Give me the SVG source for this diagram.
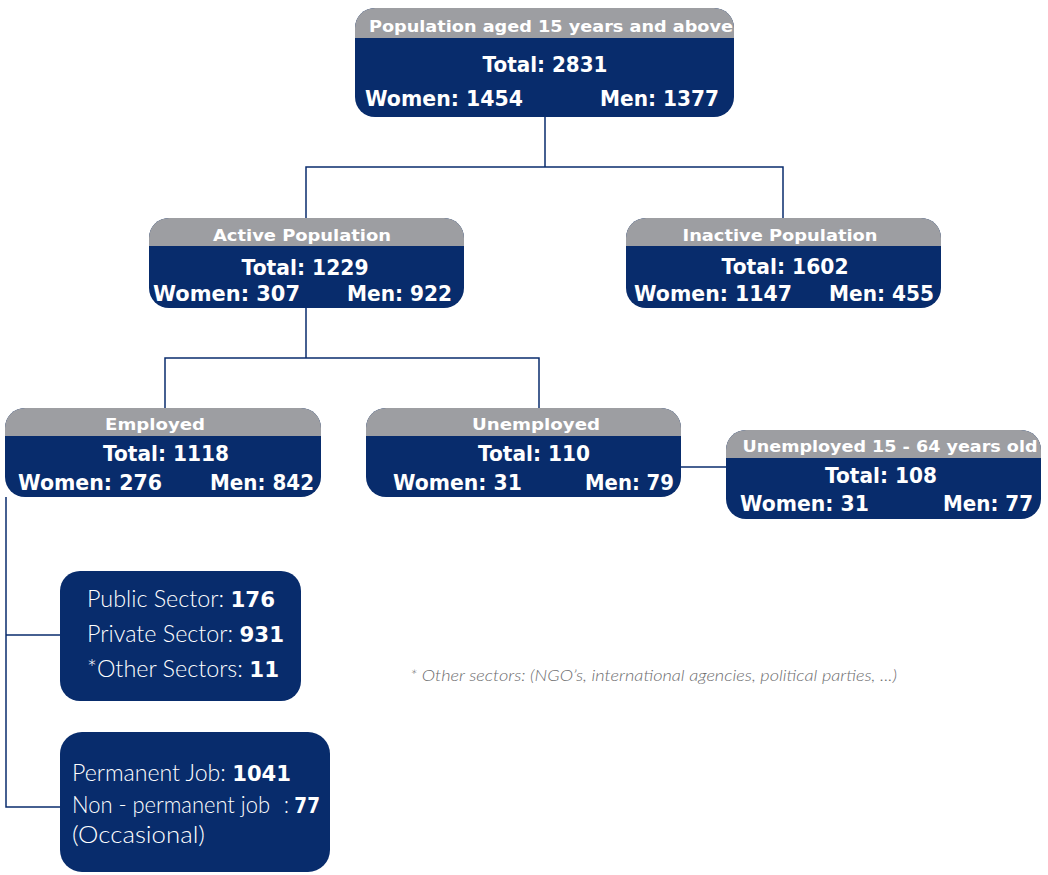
<svg xmlns="http://www.w3.org/2000/svg" width="1048" height="875" viewBox="0 0 1048 875">
<style>
.box{fill:#082c6c}
.hdr{fill:#9d9ea2}
.h{font-family:"DejaVu Sans",Verdana,sans-serif;font-weight:bold;font-size:16px;fill:#fff;text-anchor:middle}
.t{font-family:"DejaVu Sans",Verdana,sans-serif;font-weight:bold;font-size:21px;fill:#fff}
.c{text-anchor:middle}
.l{font-family:"Lato","Liberation Sans",sans-serif;font-weight:300;font-size:23px;fill:#fff}
.b{font-family:"DejaVu Sans",Verdana,sans-serif;font-weight:bold;font-size:21px}
.fn{font-family:"Lato","Liberation Sans",sans-serif;font-weight:300;font-style:italic;font-size:15px;fill:#6e6e70}
.conn{fill:none;stroke:#0a2d6e;stroke-width:1.5}
</style>
<g id="connectors" class="conn">
<path d="M545,117 V167 M306,218 V167 H783 V218"/>
<path d="M306,308 V358 M165,408 V358 H539 V408"/>
<path d="M681,467 H726"/>
<path d="M6,497 V807 H60 M6,635 H60"/>
</g>
<g id="n-pop">
<rect class="box" x="355" y="8" width="379" height="109" rx="20"/>
<path class="hdr" d="M355,38 V28 A20,20 0 0 1 375,8 H714 A20,20 0 0 1 734,28 V38 Z"/>
<text class="h" x="551" y="32" textLength="364" lengthAdjust="spacingAndGlyphs">Population aged 15 years and above</text>
<text class="t c" x="545" y="72" textLength="125" lengthAdjust="spacingAndGlyphs">Total: 2831</text>
<text class="t" x="365" y="106" textLength="158" lengthAdjust="spacingAndGlyphs">Women: 1454</text>
<text class="t" x="600" y="106" textLength="119" lengthAdjust="spacingAndGlyphs">Men: 1377</text>
</g>
<g id="n-active">
<rect class="box" x="149" y="218" width="315" height="90" rx="20"/>
<path class="hdr" d="M149,246 V238 A20,20 0 0 1 169,218 H444 A20,20 0 0 1 464,238 V246 Z"/>
<text class="h" x="302" y="241" textLength="178" lengthAdjust="spacingAndGlyphs">Active Population</text>
<text class="t c" x="305" y="275" textLength="127" lengthAdjust="spacingAndGlyphs">Total: 1229</text>
<text class="t" x="153" y="301" textLength="147" lengthAdjust="spacingAndGlyphs">Women: 307</text>
<text class="t" x="347" y="301" textLength="105" lengthAdjust="spacingAndGlyphs">Men: 922</text>
</g>
<g id="n-inactive">
<rect class="box" x="626" y="218" width="315" height="90" rx="20"/>
<path class="hdr" d="M626,246 V238 A20,20 0 0 1 646,218 H921 A20,20 0 0 1 941,238 V246 Z"/>
<text class="h" x="780" y="241" textLength="195" lengthAdjust="spacingAndGlyphs">Inactive Population</text>
<text class="t c" x="785" y="274" textLength="127" lengthAdjust="spacingAndGlyphs">Total: 1602</text>
<text class="t" x="634" y="301" textLength="158" lengthAdjust="spacingAndGlyphs">Women: 1147</text>
<text class="t" x="829" y="301" textLength="105" lengthAdjust="spacingAndGlyphs">Men: 455</text>
</g>
<g id="n-employed">
<rect class="box" x="5" y="408" width="316" height="89" rx="20"/>
<path class="hdr" d="M5,436 V428 A20,20 0 0 1 25,408 H301 A20,20 0 0 1 321,428 V436 Z"/>
<text class="h" x="155" y="430" textLength="100" lengthAdjust="spacingAndGlyphs">Employed</text>
<text class="t c" x="166" y="461" textLength="126" lengthAdjust="spacingAndGlyphs">Total: 1118</text>
<text class="t" x="18" y="490" textLength="144" lengthAdjust="spacingAndGlyphs">Women: 276</text>
<text class="t" x="210" y="490" textLength="104" lengthAdjust="spacingAndGlyphs">Men: 842</text>
</g>
<g id="n-unemployed">
<rect class="box" x="366" y="408" width="315" height="89" rx="20"/>
<path class="hdr" d="M366,436 V428 A20,20 0 0 1 386,408 H661 A20,20 0 0 1 681,428 V436 Z"/>
<text class="h" x="536" y="430" textLength="128" lengthAdjust="spacingAndGlyphs">Unemployed</text>
<text class="t c" x="534" y="461" textLength="112" lengthAdjust="spacingAndGlyphs">Total: 110</text>
<text class="t" x="393" y="490" textLength="129" lengthAdjust="spacingAndGlyphs">Women: 31</text>
<text class="t" x="585" y="490" textLength="89" lengthAdjust="spacingAndGlyphs">Men: 79</text>
</g>
<g id="n-unemp1564">
<rect class="box" x="726" y="430" width="315" height="89" rx="20"/>
<path class="hdr" d="M726,458 V450 A20,20 0 0 1 746,430 H1021 A20,20 0 0 1 1041,450 V458 Z"/>
<text class="h" x="890" y="452" textLength="295" lengthAdjust="spacingAndGlyphs">Unemployed 15 - 64 years old</text>
<text class="t c" x="881" y="483" textLength="112" lengthAdjust="spacingAndGlyphs">Total: 108</text>
<text class="t" x="740" y="511" textLength="129" lengthAdjust="spacingAndGlyphs">Women: 31</text>
<text class="t" x="943" y="511" textLength="90" lengthAdjust="spacingAndGlyphs">Men: 77</text>
</g>
<g id="n-sectors">
<rect class="box" x="60" y="571" width="241" height="130" rx="20"/>
<text class="l" x="87" y="607" textLength="188" lengthAdjust="spacingAndGlyphs">Public Sector: <tspan class="b">176</tspan></text>
<text class="l" x="87" y="642" textLength="197" lengthAdjust="spacingAndGlyphs">Private Sector: <tspan class="b">931</tspan></text>
<text class="l" x="87" y="677" textLength="192" lengthAdjust="spacingAndGlyphs">*Other Sectors: <tspan class="b">11</tspan></text>
</g>
<g id="n-jobs">
<rect class="box" x="60" y="732" width="270" height="140" rx="22"/>
<text class="l" x="72" y="781" textLength="219" lengthAdjust="spacingAndGlyphs">Permanent Job: <tspan class="b">1041</tspan></text>
<text class="l" x="72" y="813" textLength="198" lengthAdjust="spacingAndGlyphs">Non - permanent job</text>
<text class="l" x="284" y="813" textLength="36" lengthAdjust="spacingAndGlyphs">: <tspan class="b">77</tspan></text>
<text class="l" x="72" y="843" textLength="133" lengthAdjust="spacingAndGlyphs">(Occasional)</text>
</g>
<text class="fn" x="410" y="681" textLength="487" lengthAdjust="spacingAndGlyphs">* Other sectors: (NGO’s, international agencies, political parties, ...)</text>
</svg>
